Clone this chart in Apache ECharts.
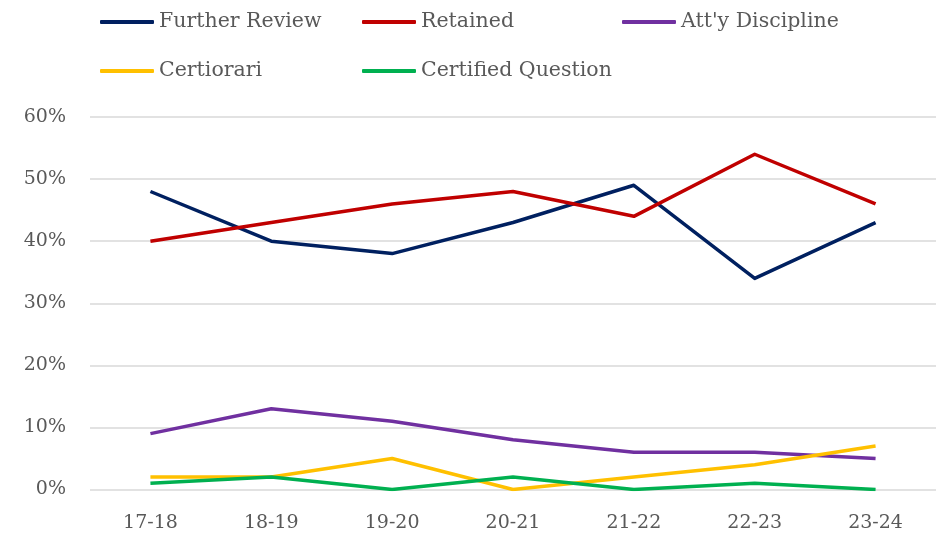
<!DOCTYPE html>
<html><head><meta charset="utf-8">
<script src="https://cdn.jsdelivr.net/npm/echarts@6/dist/echarts.min.js"></script>
<style>html,body{margin:0;padding:0;background:#fff}#c{width:942px;height:535px}</style>
</head><body><div id="c"></div>
<script>
const categories = ['17-18','18-19','19-20','20-21','21-22','22-23','23-24'];
const furtherReview = [48, 40, 38, 43, 49, 34, 43];
const retained = [40, 43, 46, 48, 44, 54, 46];
const attyDiscipline = [9, 13, 11, 8, 6, 6, 5];
const certiorari = [2, 2, 5, 0, 2, 4, 7];
const certifiedQuestion = [1, 2, 0, 2, 0, 1, 0];
const yTicks = [0, 10, 20, 30, 40, 50, 60];

const FONT = 'DejaVu Serif';
const seriesDefs = [
  {name:'Further Review', data: furtherReview, color:'#002060'},
  {name:'Retained', data: retained, color:'#C00000'},
  {name:"Att'y Discipline", data: attyDiscipline, color:'#7030A0'},
  {name:'Certiorari', data: certiorari, color:'#FFC000'},
  {name:'Certified Question', data: certifiedQuestion, color:'#00B050'}
];
const legendPos = [[100,10],[362,10],[622,10],[100,59],[362,59]];
const chart = echarts.init(document.getElementById('c'), null, {renderer:'canvas'});
chart.setOption({
  animation:false,
  legend: seriesDefs.map((s,i)=>({
    data:[{name:s.name, icon:'roundRect', itemStyle:{color:s.color}}],
    left:legendPos[i][0], top:legendPos[i][1],
    itemWidth:54, itemHeight:4, padding:0, height:24,
    textStyle:{fontFamily:FONT, fontSize:20.5, color:'#595959', lineHeight:24}
  })),
  grid:{left:90, right:6, top:117, bottom:45.5, containLabel:false},
  xAxis:{type:'category', data:categories, boundaryGap:true,
    axisLine:{show:false}, axisTick:{show:false},
    axisLabel:{fontFamily:FONT, fontSize:19, color:'#595959', margin:24}},
  yAxis:{type:'value', min:0, max:60, interval:10,
    axisLine:{show:false}, axisTick:{show:false},
    splitLine:{lineStyle:{color:'#D9D9D9', width:1.5}},
    axisLabel:{fontFamily:FONT, fontSize:19, color:'#595959', margin:24, formatter:v=>v+'%'}},
  series: seriesDefs.map(s=>({
    name:s.name, type:'line', data:s.data, symbol:'none',
    lineStyle:{color:s.color, width:3.5, join:'round'}, itemStyle:{color:s.color}
  }))
});
</script></body></html>
